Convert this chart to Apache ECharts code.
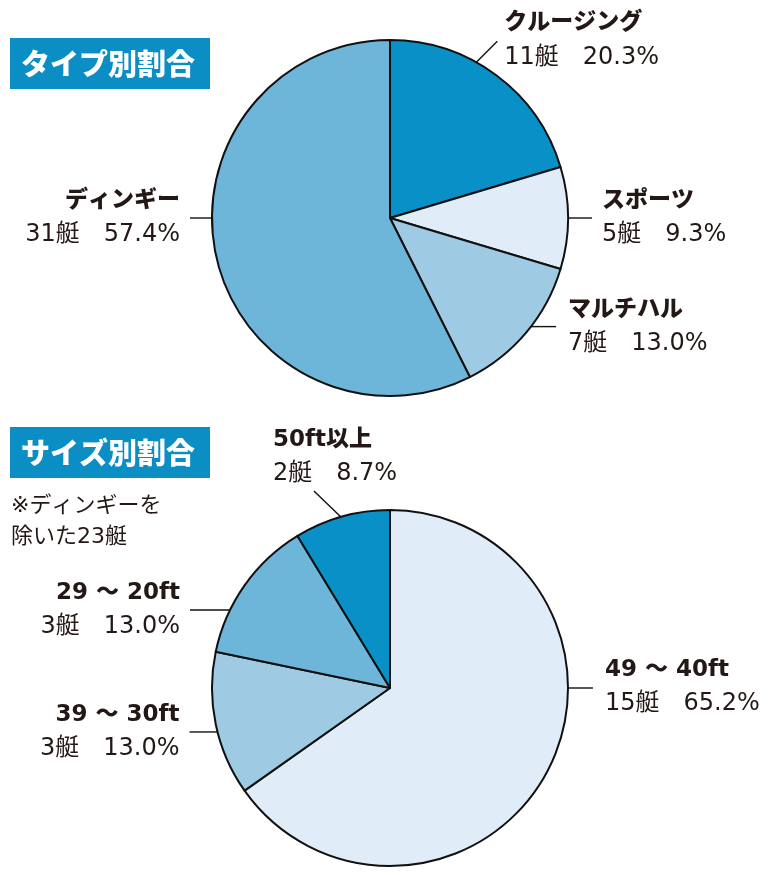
<!DOCTYPE html>
<html>
<head>
<meta charset="utf-8">
<script src="https://cdn.jsdelivr.net/npm/echarts@6/dist/echarts.min.js"></script>
<style>
    html, body { margin: 0; padding: 0; background: #fff; }
    #chart { width: 775px; height: 875px; }
</style>
</head>
<body>
<div id="chart"></div>
<script>
// タイプ別割合
const typeNames = ["クルージング", "スポーツ", "マルチハル", "ディンギー"]
const typeCounts = [11, 5, 7, 31]
const typePercents = ["20.3%", "9.3%", "13.0%", "57.4%"]

// サイズ別割合（ディンギーを除いた23艇）
const sizeNames = ["49 ～ 40ft", "39 ～ 30ft", "29 ～ 20ft", "50ft以上"]
const sizeCounts = [15, 3, 3, 2]
const sizePercents = ["65.2%", "13.0%", "13.0%", "8.7%"]

const typeColors = ["#0990c6", "#e0ecf7", "#9ecbe3", "#6db6da"]
const sizeColors = ["#e0ecf7", "#9ecbe3", "#6db6da", "#0990c6"]

const ink = "#231815"
const latinFont = "'DejaVu Sans', 'Noto Sans CJK JP', sans-serif"

// where each leader line leaves the rim (deg clockwise from 12 o'clock),
// the line's own vector, and the label offset from the line end
const typeLeaders = [
    { angle: 29, line: [21, -21], label: [7, -1], align: "left" },
    { angle: 90, line: [24, 0], label: [10, 0], align: "left" },
    { angle: 127.6, line: [25, 0], label: [12, 0], align: "left" },
    { angle: 270, line: [-22, 0], label: [-10, 0], align: "right" },
]
const sizeLeaders = [
    { angle: 90, line: [25, 0], label: [12, -1], align: "left" },
    { angle: 255.7, line: [-28, 0], label: [-10, 0], align: "right" },
    { angle: 296, line: [-40, 0], label: [-10, 0], align: "right" },
    { angle: 344, line: [-27, -26], label: [-41, -34], align: "left" },
]

const typeCenter = [390, 218]
const sizeCenter = [390, 688]
const pieRadius = 178

function leaderLayout(center, radius, leaders) {
    return (params) => {
        const l = leaders[params.dataIndex]
        const a = l.angle * Math.PI / 180
        const sx = center[0] + radius * Math.sin(a)
        const sy = center[1] - radius * Math.cos(a)
        const ex = sx + l.line[0]
        const ey = sy + l.line[1]
        return {
            x: ex + l.label[0],
            y: ey + l.label[1],
            align: l.align,
            verticalAlign: "middle",
            labelLinePoints: [[sx, sy], [ex, ey], [ex, ey]],
        }
    }
}

function pieSeries(names, counts, percents, colors, center, leaders) {
    return {
        type: "pie",
        center: center,
        radius: pieRadius,
        startAngle: 90,
        clockwise: true,
        avoidLabelOverlap: false,
        silent: true,
        animation: false,
        data: names.map((n, i) => ({ name: n, value: counts[i], itemStyle: { color: colors[i] } })),
        itemStyle: {
            borderColor: "#111111",
            borderWidth: 2,
        },
        label: {
            show: true,
            position: "outside",
            formatter: (p) => `{n|${p.name}}\n{v|${p.value}艇　${percents[p.dataIndex]}}`,
            rich: {
                n: { fontFamily: latinFont, fontWeight: 900, fontSize: 23, lineHeight: 34, color: ink },
                v: { fontFamily: latinFont, fontSize: 24, lineHeight: 34, color: ink },
            },
        },
        labelLine: {
            show: true,
            lineStyle: { color: "#111111", width: 1.4 },
        },
        labelLayout: leaderLayout(center, pieRadius, leaders),
        emphasis: { disabled: true },
    }
}

document.addEventListener("DOMContentLoaded", () => {
    const chart = echarts.init(document.getElementById("chart"))

    const option = {
        backgroundColor: "#ffffff",
        animation: false,
        graphic: [
            { type: "rect", shape: { x: 10, y: 38, width: 200, height: 51 }, style: { fill: "#0a8ec4" } },
            {
                type: "text", x: 108, y: 64,
                style: { text: "タイプ別割合", fill: "#ffffff", font: "900 29px 'Noto Sans CJK JP'", textAlign: "center", textVerticalAlign: "middle" },
            },
            { type: "rect", shape: { x: 10, y: 427, width: 200, height: 51 }, style: { fill: "#0a8ec4" } },
            {
                type: "text", x: 108, y: 453,
                style: { text: "サイズ別割合", fill: "#ffffff", font: "900 29px 'Noto Sans CJK JP'", textAlign: "center", textVerticalAlign: "middle" },
            },
            {
                type: "text", x: 11, y: 491,
                style: { text: "※ディンギーを\n除いた23艇", fill: ink, font: "22px 'DejaVu Sans', 'Noto Sans CJK JP'", lineHeight: 31 },
            },
        ],
        series: [
            pieSeries(typeNames, typeCounts, typePercents, typeColors, typeCenter, typeLeaders),
            pieSeries(sizeNames, sizeCounts, sizePercents, sizeColors, sizeCenter, sizeLeaders),
        ],
    }

    chart.setOption(option)

    window.addEventListener("resize", () => {
        chart.resize()
    })
})
</script>
</body>
</html>
